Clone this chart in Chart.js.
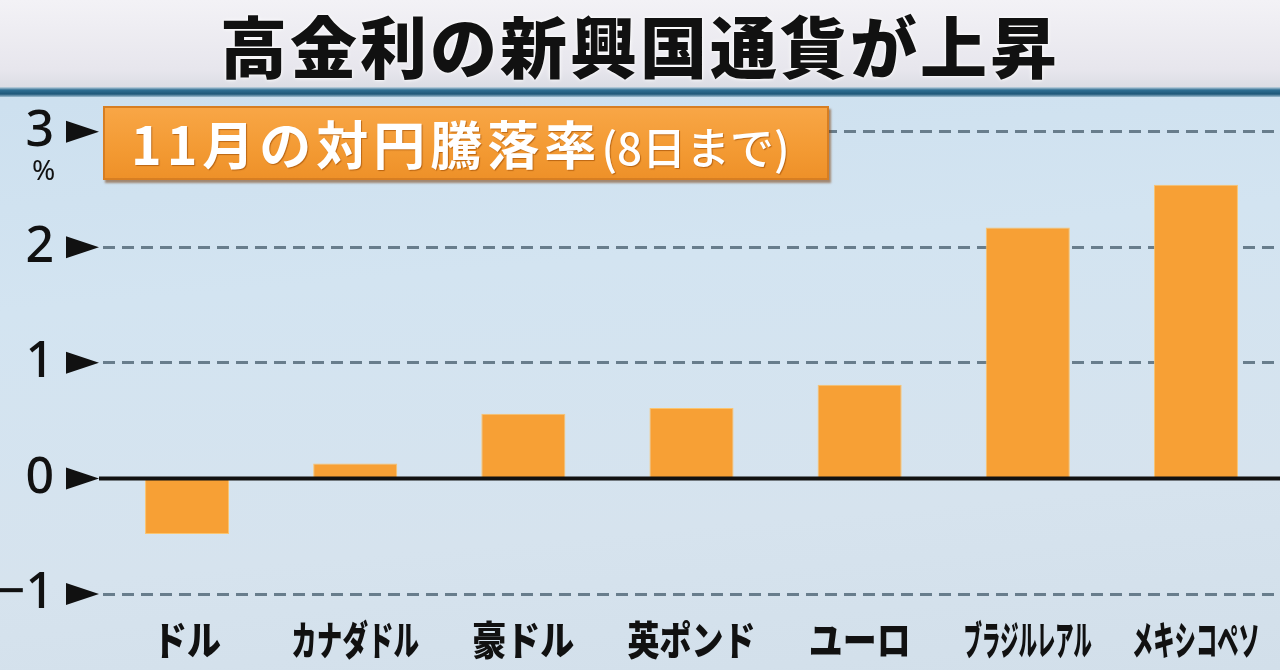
<!DOCTYPE html>
<html lang="ja">
<head>
    <meta charset="UTF-8">
    <title>高金利の新興国通貨が上昇</title>
    <script src="https://cdn.jsdelivr.net/npm/chart.js"></script>
    <style>
        body {
            margin: 0;
            width: 1280px;
            height: 670px;
            overflow: hidden;
            position: relative;
            font-family: 'Noto Sans CJK JP', sans-serif;
            background: linear-gradient(175deg, #cadeee 0%, #d3e4f1 40%, #d6e3ee 75%, #d2dfea 100%);
        }

        #title {
            position: absolute;
            left: 0; top: 0;
            width: 1280px; height: 87px;
            background: linear-gradient(180deg, #f3f2f6 0%, #e7e6ed 80%, #dcdde4 100%);
            text-align: center;
            font-weight: 900;
            font-size: 67px;
            line-height: 88px;
            letter-spacing: 3px;
            color: #111;
            text-shadow: 0 0 4px #fff, 0 0 2px #fff;
        }

        #stripe {
            position: absolute;
            left: 0; top: 87px;
            width: 1280px; height: 10px;
            background: linear-gradient(180deg, #c9d7e2 0%, #2f6f93 30%, #1f5879 70%, #9fbdd0 100%);
        }

        #chartBox {
            position: absolute;
            left: 0; top: 97px;
            width: 1280px; height: 573px;
        }

        #badge {
            position: absolute;
            left: 103px; top: 106px;
            width: 722px; height: 70px;
            background: linear-gradient(180deg, #f8a646 0%, #f39a33 60%, #ee9129 100%);
            border: 2px solid #d77e22;
            box-shadow: 2px 3px 2px rgba(120, 60, 10, 0.55);
            color: #fff;
            font-weight: bold;
            line-height: 70px;
            white-space: nowrap;
            text-shadow: 1px 1px 1px rgba(150, 70, 0, 0.6);
            z-index: 2;
        }

        #badge .big {
            font-size: 52px;
            letter-spacing: 5px;
            margin-left: 26px;
        }

        #badge .small {
            font-size: 44px;
            font-weight: 500;
        }

        #unit {
            position: absolute;
            left: 32px; top: 150px;
            font-family: 'Noto Sans', sans-serif;
            font-size: 28px;
            color: #111;
            z-index: 2;
        }
    </style>
</head>
<body>
    <div id="title">高金利の新興国通貨が上昇</div>
    <div id="stripe"></div>
    <div id="badge"><span class="big">11月の対円騰落率</span><span class="small">(8日まで)</span></div>
    <div id="unit">%</div>
    <div id="chartBox"><canvas id="chart"></canvas></div>

    <script>
        const categories = ['ドル', 'カナダドル', '豪ドル', '英ポンド', 'ユーロ', 'ブラジルレアル', 'メキシコペソ'];
        const changeRates = [-0.48, 0.13, 0.56, 0.61, 0.81, 2.17, 2.54];
        const tickValues = [-1, 0, 1, 2, 3];

        // 目盛りの三角、ゼロの実線、横軸の文字
        const decorPlugin = {
            id: 'decor',
            afterDatasetsDraw(chart) {
                const ctx = chart.ctx;
                const area = chart.chartArea;
                const y = chart.scales.y;
                const x = chart.scales.x;

                ctx.save();
                ctx.fillStyle = '#111';
                tickValues.forEach(v => {
                    const py = y.getPixelForValue(v);
                    ctx.beginPath();
                    ctx.moveTo(area.left - 37, py - 11);
                    ctx.lineTo(area.left - 4, py);
                    ctx.lineTo(area.left - 37, py + 11);
                    ctx.closePath();
                    ctx.fill();
                });

                const zero = y.getPixelForValue(0);
                ctx.strokeStyle = '#111';
                ctx.lineWidth = 4;
                ctx.beginPath();
                ctx.moveTo(area.left - 4, zero);
                ctx.lineTo(area.right, zero);
                ctx.stroke();

                ctx.font = '900 40px "Noto Sans CJK JP"';
                ctx.textAlign = 'center';
                ctx.textBaseline = 'middle';
                categories.forEach((c, i) => {
                    const px = x.getPixelForValue(i);
                    const w = ctx.measureText(c).width;
                    const s = Math.min(0.85, 128 / w);
                    ctx.save();
                    ctx.translate(px, area.bottom + 46);
                    ctx.scale(s, 1);
                    ctx.fillText(c, 0, 0);
                    ctx.restore();
                });
                ctx.restore();
            }
        };

        const ctx = document.getElementById('chart').getContext('2d');

        new Chart(ctx, {
            type: 'bar',
            data: {
                labels: categories,
                datasets: [{
                    label: '11月の対円騰落率',
                    data: changeRates,
                    backgroundColor: '#f7a035',
                    borderColor: '#fbc46e',
                    borderWidth: 1,
                    barPercentage: 0.5,
                    categoryPercentage: 1.0
                }]
            },
            options: {
                responsive: true,
                maintainAspectRatio: false,
                animation: false,
                layout: { padding: 0 },
                plugins: {
                    legend: { display: false },
                    tooltip: { enabled: false }
                },
                scales: {
                    x: {
                        grid: { display: false },
                        border: { display: false },
                        ticks: { display: false },
                        afterFit(scale) { scale.height = 76; }
                    },
                    y: {
                        min: -1,
                        max: 3.3,
                        afterBuildTicks(scale) {
                            scale.ticks = tickValues.map(v => ({ value: v }));
                        },
                        afterFit(scale) {
                            scale.width = 103;
                            scale.paddingTop = 0;
                            scale.paddingBottom = 0;
                        },
                        grid: {
                            drawTicks: false,
                            lineWidth: 3,
                            color: c => c.tick && c.tick.value === 0 ? 'rgba(0,0,0,0)' : '#687d8c'
                        },
                        border: { display: false, dash: [12, 7] },
                        ticks: {
                            padding: 49,
                            color: '#111',
                            font: { family: 'Noto Sans', size: 50, weight: '500' },
                            callback: v => v < 0 ? '−' + Math.abs(v) : String(v)
                        }
                    }
                }
            },
            plugins: [decorPlugin]
        });
    </script>
</body>
</html>
